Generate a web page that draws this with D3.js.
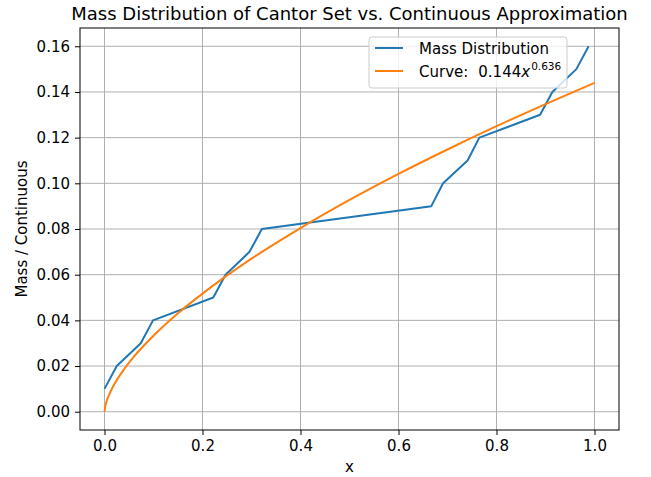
<!DOCTYPE html>
<html lang="en">
<head>
  <meta charset="UTF-8">
  <title>Mass Distribution of Cantor Set</title>
  <script src="https://d3js.org/d3.v7.min.js"></script>
  <style>
    body { margin: 0; background: #fff; font-family: "DejaVu Sans", sans-serif; }
    svg text { fill: #000; }
  </style>
</head>
<body>
  <div id="chart"></div>
  <script>
    // Mass distribution (step points of the Cantor function)
    const massX = [0, 0.025, 0.074, 0.099, 0.222, 0.247, 0.296, 0.321,
                   0.667, 0.691, 0.741, 0.765, 0.889, 0.914, 0.963, 0.988];
    const massY = [0.01, 0.02, 0.03, 0.04, 0.05, 0.06, 0.07, 0.08,
                   0.09, 0.10, 0.11, 0.12, 0.13, 0.14, 0.15, 0.16];

    // Continuous approximation curve
    const curveX = [0, 0.002, 0.005, 0.01, 0.02, 0.04, 0.06, 0.08, 0.1, 0.15,
                    0.2, 0.3, 0.4, 0.5, 0.6, 0.7, 0.8, 0.9, 1.0];
    const curveY = [0, 0.0028, 0.0050, 0.0077, 0.0120, 0.0186, 0.0241, 0.0289, 0.0333, 0.0431,
                    0.0517, 0.0670, 0.0804, 0.0927, 0.1041, 0.1148, 0.1250, 0.1347, 0.144];

    const xTicks = [0, 0.2, 0.4, 0.6, 0.8, 1.0];
    const yTicks = [0, 0.02, 0.04, 0.06, 0.08, 0.10, 0.12, 0.14, 0.16];

    const width = 651, height = 477;
    const margin = { left: 80, right: 32, top: 28, bottom: 47 };

    const svg = d3.select("#chart").append("svg")
      .attr("width", width)
      .attr("height", height);

    const x = d3.scaleLinear().domain([-0.05, 1.05]).range([margin.left, width - margin.right]);
    const y = d3.scaleLinear().domain([-0.008, 0.168]).range([height - margin.bottom, margin.top]);

    // grid
    const grid = svg.append("g");
    grid.selectAll(".gx").data(xTicks).enter().append("line")
      .attr("x1", d => x(d)).attr("x2", d => x(d))
      .attr("y1", y.range()[0]).attr("y2", y.range()[1])
      .attr("stroke", "#b0b0b0").attr("stroke-width", 1);
    grid.selectAll(".gy").data(yTicks).enter().append("line")
      .attr("y1", d => y(d)).attr("y2", d => y(d))
      .attr("x1", x.range()[0]).attr("x2", x.range()[1])
      .attr("stroke", "#b0b0b0").attr("stroke-width", 1);

    // axes
    const xAxis = d3.axisBottom(x).tickValues(xTicks).tickFormat(d3.format(".1f")).tickSizeOuter(0).tickSize(5).tickPadding(5);
    const yAxis = d3.axisLeft(y).tickValues(yTicks).tickFormat(d3.format(".2f")).tickSizeOuter(0).tickSize(5).tickPadding(5);

    svg.append("g")
      .attr("transform", `translate(0,${height - margin.bottom})`)
      .call(xAxis)
      .call(g => g.select(".domain").remove())
      .selectAll("text").attr("font-size", 15).attr("font-family", "DejaVu Sans");
    svg.append("g")
      .attr("transform", `translate(${margin.left},0)`)
      .call(yAxis)
      .call(g => g.select(".domain").remove())
      .selectAll("text").attr("font-size", 15).attr("font-family", "DejaVu Sans");

    // lines
    const massData = massX.map((v, i) => [v, massY[i]]);
    const curveData = curveX.map((v, i) => [v, curveY[i]]);

    svg.append("path")
      .datum(massData)
      .attr("fill", "none")
      .attr("stroke", "#1f77b4")
      .attr("stroke-width", 2)
      .attr("stroke-linejoin", "round")
      .attr("d", d3.line().x(d => x(d[0])).y(d => y(d[1])));

    svg.append("path")
      .datum(curveData)
      .attr("fill", "none")
      .attr("stroke", "#ff7f0e")
      .attr("stroke-width", 2)
      .attr("d", d3.line().curve(d3.curveMonotoneX).x(d => x(d[0])).y(d => y(d[1])));

    // frame
    svg.append("rect")
      .attr("x", margin.left).attr("y", margin.top)
      .attr("width", width - margin.left - margin.right)
      .attr("height", height - margin.top - margin.bottom)
      .attr("fill", "none").attr("stroke", "#000").attr("stroke-width", 1);

    // title and labels
    const cx = (margin.left + width - margin.right) / 2;
    svg.append("text")
      .attr("x", cx).attr("y", 20)
      .attr("text-anchor", "middle")
      .attr("font-size", 18)
      .text("Mass Distribution of Cantor Set vs. Continuous Approximation");
    svg.append("text")
      .attr("x", cx).attr("y", 472)
      .attr("text-anchor", "middle")
      .attr("font-size", 15)
      .text("x");
    svg.append("text")
      .attr("transform", `translate(27,${(margin.top + height - margin.bottom) / 2}) rotate(-90)`)
      .attr("text-anchor", "middle")
      .attr("font-size", 15)
      .text("Mass / Continuous");

    // legend
    const legend = svg.append("g").attr("transform", "translate(369,37)");
    legend.append("rect")
      .attr("width", 198).attr("height", 51)
      .attr("rx", 3)
      .attr("fill", "#fff").attr("fill-opacity", 0.8)
      .attr("stroke", "#cccccc");
    legend.append("line")
      .attr("x1", 6).attr("x2", 34).attr("y1", 11).attr("y2", 11)
      .attr("stroke", "#1f77b4").attr("stroke-width", 2);
    legend.append("text")
      .attr("x", 50).attr("y", 17).attr("font-size", 15)
      .text("Mass Distribution");
    legend.append("line")
      .attr("x1", 6).attr("x2", 34).attr("y1", 34).attr("y2", 34)
      .attr("stroke", "#ff7f0e").attr("stroke-width", 2);
    const t = legend.append("text")
      .attr("x", 50).attr("y", 40).attr("font-size", 15);
    t.append("tspan").text("Curve:");
    t.append("tspan").attr("dx", 10).text("0.144");
    t.append("tspan").attr("font-style", "italic").text("x");
    t.append("tspan").attr("font-size", 10.5).attr("dy", -7).attr("dx", 1).text("0.636");
  </script>
</body>
</html>
